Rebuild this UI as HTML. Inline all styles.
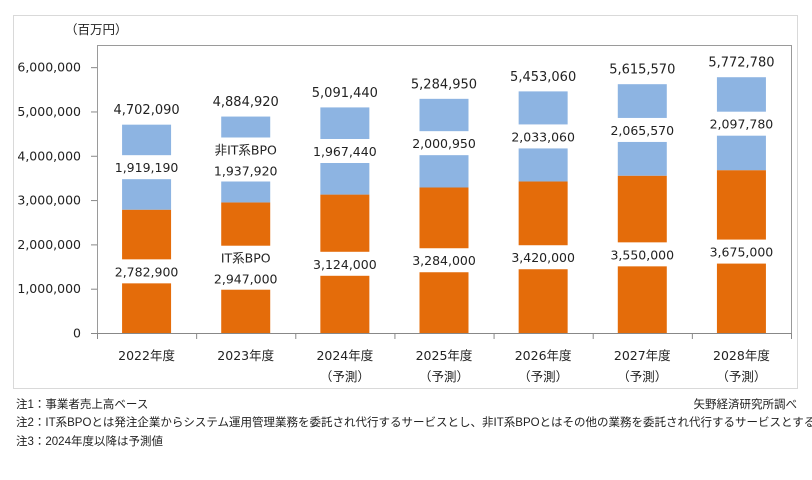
<!DOCTYPE html>
<html><head><meta charset="utf-8">
<style>
body{margin:0;background:#fff;width:812px;height:480px;overflow:hidden;font-family:"DejaVu Sans","Noto Sans CJK JP",sans-serif;}
.note{position:absolute;left:16px;font-size:11.5px;color:#222;font-family:"Liberation Sans","Noto Sans CJK JP",sans-serif;white-space:nowrap;}
</style></head><body>
<svg width="812" height="480" style="position:absolute;left:0;top:0" font-family="DejaVu Sans, Noto Sans CJK JP, sans-serif">
<rect x="13.5" y="15.5" width="784" height="373" fill="#fff" stroke="#d9d9d9"/>
<text x="65" y="34" font-size="12.5" fill="#222">（百万円）</text>
<g id="g"></g>
</svg>
<div class="note" style="top:396px">注1：事業者売上高ベース</div>
<div class="note" style="top:414px">注2：IT系BPOとは発注企業からシステム運用管理業務を委託され代行するサービスとし、非IT系BPOとはその他の業務を委託され代行するサービスとする。</div>
<div class="note" style="top:433px">注3：2024年度以降は予測値</div>
<div class="note" style="top:396px;left:auto;right:15px">矢野経済研究所調べ</div>
<script>
const categories=["2022年度","2023年度","2024年度","2025年度","2026年度","2027年度","2028年度"];
const forecast=[false,false,true,true,true,true,true];
const itBpo=[2782900,2947000,3124000,3284000,3420000,3550000,3675000];
const nonItBpo=[1919190,1937920,1967440,2000950,2033060,2065570,2097780];
const totals=[4702090,4884920,5091440,5284950,5453060,5615570,5772780];
const yTicks=[0,1000000,2000000,3000000,4000000,5000000,6000000];
const yMax=6500000;
const L=97,R=791,T=45,B=333;
const cw=(R-L)/categories.length, bw=49;
const y=v=>B-(v/yMax)*(B-T);
const x=i=>L+cw*(i+0.5);
const fmt=v=>v.toLocaleString('en-US');
const NS="http://www.w3.org/2000/svg",g=document.getElementById('g');
function mk(t,a,p){const e=document.createElementNS(NS,t);for(const k in a)e.setAttribute(k,a[k]);(p||g).appendChild(e);return e;}
function txt(s,xx,yy,o){const e=mk('text',Object.assign({x:xx,y:yy,'font-size':12.5,fill:'#222','text-anchor':'middle'},o||{}));e.textContent=s;return e;}
// plot border
const pb=mk('rect',{x:L+0.5,y:T+0.5,width:R-L,height:B-T,fill:'none',stroke:'#9a9a9a'});

// y ticks
yTicks.forEach(v=>{
  mk('line',{x1:91,x2:L,y1:y(v)+0.5,y2:y(v)+0.5,stroke:'#888'});
  const t=txt(fmt(v),81,y(v)+4.5,{'text-anchor':'end'});
  
});
// x ticks
for(let i=0;i<=categories.length;i++){mk('line',{x1:L+cw*i+0.5,x2:L+cw*i+0.5,y1:B,y2:B+6,stroke:'#888'});}
mk('line',{x1:L,x2:R,y1:B+0.5,y2:B+0.5,stroke:'#888'});
categories.forEach((c,i)=>{
  const cx=x(i);
  const o=mk('rect',{x:cx-bw/2,y:y(itBpo[i]),width:bw,height:B-y(itBpo[i]),fill:'#E46C0A'});
  
  const top=itBpo[i]+nonItBpo[i];
  const b=mk('rect',{x:cx-bw/2,y:y(top),width:bw,height:y(itBpo[i])-y(top),fill:'#8DB4E2'});
  
  const two=(i===1);
  const h=two?44:24;
  // label boxes
  const my1=y(itBpo[i]/2), my2=y(itBpo[i]+nonItBpo[i]/2);
  mk('rect',{x:cx-40,y:my1-h/2,width:80,height:h,fill:'#fff'});
  mk('rect',{x:cx-40,y:my2-h/2,width:80,height:h,fill:'#fff'});
  if(two){
    const a=txt('IT系BPO',cx,my1-5);
    const l1=txt(fmt(itBpo[i]),cx,my1+16);
    const a2=txt('非IT系BPO',cx,my2-5);
    const l2=txt(fmt(nonItBpo[i]),cx,my2+16);
  }else{
    const l1=txt(fmt(itBpo[i]),cx,my1+5);
    const l2=txt(fmt(nonItBpo[i]),cx,my2+5);
  }
  const tl=txt(fmt(totals[i]),cx,y(totals[i])-10.5,{'font-size':13});
  
  const cl=txt(c,cx,360,{'font-size':12.5});
  
  if(forecast[i]){const f=txt('（予測）',cx,381,{'font-size':12.5});}
});
</script>
</body></html>
